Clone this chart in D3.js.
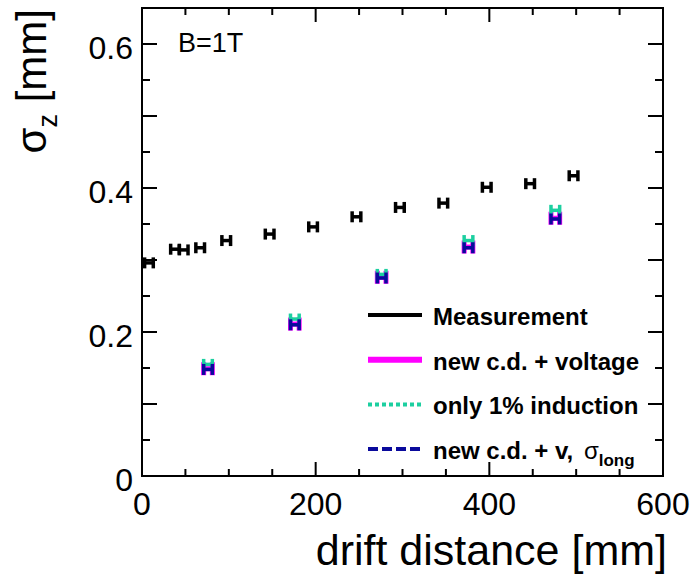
<!DOCTYPE html>
<html>
<head>
<meta charset="utf-8">
<script src="https://cdn.jsdelivr.net/npm/d3@7/dist/d3.min.js"></script>
<style>
  body { margin: 0; background: #fff; }
  text { font-family: "Liberation Sans", Arial, sans-serif; }
</style>
</head>
<body>
<div id="chart"></div>
<script>
// measured sigma_z vs drift distance, B=1T
var measX = [8, 38, 48, 67, 97, 147, 197, 247, 297, 347, 397, 447, 497];
var measY = [0.296, 0.315, 0.314, 0.317, 0.327, 0.336, 0.346, 0.360, 0.373, 0.379, 0.401, 0.406, 0.417];

// simulations
var simX = [76, 176, 276, 376, 476];
var simVoltage = [0.149, 0.211, 0.276, 0.318, 0.358];
var simInduction = [0.155, 0.218, 0.280, 0.327, 0.369];
var simLong = [0.148, 0.210, 0.275, 0.317, 0.357];

var xTicks = [0, 200, 400, 600];
var yTicks = [0, 0.2, 0.4, 0.6];
var xErr = 5;

var legendItems = [
  {label: "Measurement", color: "#000000", width: 4, dash: null},
  {label: "new c.d. + voltage", color: "#ff00ff", width: 6, dash: null},
  {label: "only 1% induction", color: "#1ccfa0", width: 4, dash: "4,3"},
  {label: "new c.d. + v, ", color: "#0a0a9c", width: 4, dash: "10,4", sub: true}
];

var W = 696, H = 581;
var x = d3.scaleLinear().domain([0, 600]).range([142, 663]);
var y = d3.scaleLinear().domain([0, 0.65]).range([476, 8]);

var svg = d3.select("#chart").append("svg")
  .attr("width", W)
  .attr("height", H);

// frame
svg.append("rect")
  .attr("x", x(0)).attr("y", y(0.65))
  .attr("width", x(600) - x(0)).attr("height", y(0) - y(0.65))
  .attr("fill", "none").attr("stroke", "#000").attr("stroke-width", 2);

// ticks on all four sides
var tk = svg.append("g").attr("stroke", "#000").attr("stroke-width", 2);
d3.range(0, 601, 50).forEach(function(v) {
  var len = (v % 200 === 0) ? 14 : 7;
  tk.append("line").attr("x1", x(v)).attr("x2", x(v)).attr("y1", y(0)).attr("y2", y(0) - len);
  tk.append("line").attr("x1", x(v)).attr("x2", x(v)).attr("y1", y(0.65)).attr("y2", y(0.65) + len);
});
d3.range(0, 13).forEach(function(i) {
  var v = i * 0.05;
  var len = (i % 2 === 0) ? 15 : 8;
  tk.append("line").attr("x1", x(0)).attr("x2", x(0) + len).attr("y1", y(v)).attr("y2", y(v));
  tk.append("line").attr("x1", x(600)).attr("x2", x(600) - len).attr("y1", y(v)).attr("y2", y(v));
});

// tick labels
svg.selectAll(".xl").data(xTicks).enter().append("text")
  .attr("x", function(d) { return x(d); })
  .attr("y", 515)
  .attr("text-anchor", "middle")
  .attr("font-size", 32)
  .text(function(d) { return d; });

svg.selectAll(".yl").data(yTicks).enter().append("text")
  .attr("x", 133)
  .attr("y", function(d) { return y(d) + 14.5; })
  .attr("text-anchor", "end")
  .attr("font-size", 32)
  .text(function(d) { return d === 0 ? "0" : d3.format(".1f")(d); });

// axis titles
svg.append("text")
  .attr("x", 667).attr("y", 565)
  .attr("text-anchor", "end")
  .attr("font-size", 43)
  .text("drift distance [mm]");

var yt = svg.append("text")
  .attr("transform", "translate(46,9) rotate(-90)")
  .attr("text-anchor", "end")
  .attr("font-size", 42);
yt.append("tspan").text("σ");
yt.append("tspan").attr("font-size", 27).attr("dy", 11).text("z");
yt.append("tspan").attr("dy", -11).text(" [mm]");

svg.append("text")
  .attr("x", 178).attr("y", 52)
  .attr("font-size", 27)
  .text("B=1T");

// H-shaped error markers
function drawH(xs, ys, color, sw, cap) {
  var g = svg.append("g").attr("stroke", color).attr("stroke-width", sw).attr("fill", "none");
  xs.forEach(function(d, i) {
    var cx = x(d), cy = y(ys[i]);
    var x0 = x(d - xErr), x1 = x(d + xErr);
    g.append("line").attr("x1", x0).attr("x2", x1).attr("y1", cy).attr("y2", cy);
    g.append("line").attr("x1", x0).attr("x2", x0).attr("y1", cy - cap).attr("y2", cy + cap);
    g.append("line").attr("x1", x1).attr("x2", x1).attr("y1", cy - cap).attr("y2", cy + cap);
  });
}

drawH(simX, simVoltage, "#ff00ff", 5, 6.5);
drawH(simX, simInduction, "#1ccfa0", 3.5, 5.5);
drawH(simX, simLong, "#0a0a9c", 3.5, 5.5);
drawH(measX, measY, "#000000", 3.5, 5.5);

// legend
var lg = svg.append("g");
legendItems.forEach(function(d, i) {
  var ly = 315 + i * 44.7;
  lg.append("line")
    .attr("x1", 368).attr("x2", 422).attr("y1", ly).attr("y2", ly)
    .attr("stroke", d.color).attr("stroke-width", d.width)
    .attr("stroke-dasharray", d.dash);
  var t = lg.append("text")
    .attr("x", 433).attr("y", ly + 10)
    .attr("font-size", 24).attr("font-weight", "bold");
  t.append("tspan").text(d.label);
  if (d.sub) {
    t.append("tspan").attr("font-weight", "normal").attr("dx", 4).text("σ");
    t.append("tspan").attr("font-size", 17).attr("dy", 7).text("long");
  }
});
</script>
</body>
</html>
